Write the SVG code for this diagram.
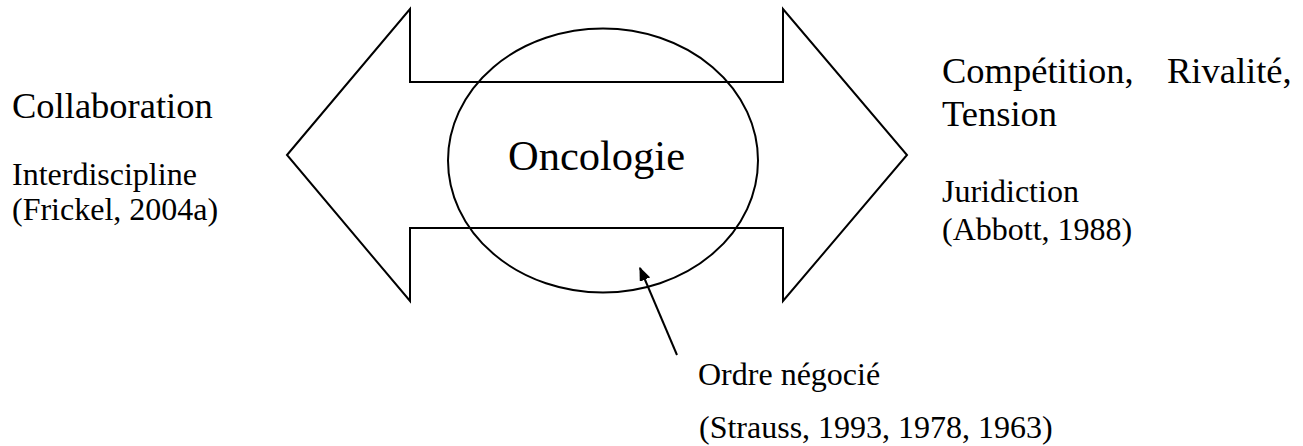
<svg xmlns="http://www.w3.org/2000/svg" width="1303" height="446" viewBox="0 0 1303 446">
<style>
.shape{fill:none;stroke:#000;stroke-width:2;stroke-linejoin:miter}
text{font-family:'Liberation Serif','Times New Roman','DejaVu Serif',Times,serif;fill:#000}
.h{font-size:36.5px}
.s{font-size:32px}
.c{font-size:42.5px}
</style>
<defs>
<marker id="ah" viewBox="0 0 10 8" refX="9" refY="4" markerWidth="7" markerHeight="5.6" markerUnits="strokeWidth" orient="auto">
<path d="M0,0 L10,4 L0,8 z" fill="#000"/>
</marker>
</defs>
<g id="double-arrow">
<polygon class="shape" points="287,155 410,9 410,82 783,82 783,9 907,155 783,301 783,228 410,228 410,301"/>
</g>
<g id="oncologie">
<ellipse class="shape" cx="603" cy="160.5" rx="155" ry="132"/>
<text class="c" x="596.5" y="170" text-anchor="middle">Oncologie</text>
</g>
<g id="collaboration">
<text class="h" x="12" y="118">Collaboration</text>
<text class="s" x="12" y="185">Interdiscipline</text>
<text class="s" x="12" y="220">(Frickel, 2004a)</text>
</g>
<g id="competition">
<text class="h" x="942" y="83">Compétition,</text>
<text class="h" x="1167" y="83">Rivalité,</text>
<text class="h" x="942" y="126">Tension</text>
<text class="s" x="942" y="202">Juridiction</text>
<text class="s" x="942" y="240">(Abbott, 1988)</text>
</g>
<g id="ordre">
<text class="s" x="698" y="385">Ordre négocié</text>
<text class="s" x="699" y="438">(Strauss, 1993, 1978, 1963)</text>
</g>
<g id="connectors">
<line x1="677" y1="355" x2="640" y2="268" stroke="#000" stroke-width="2" marker-end="url(#ah)"/>
</g>
</svg>
